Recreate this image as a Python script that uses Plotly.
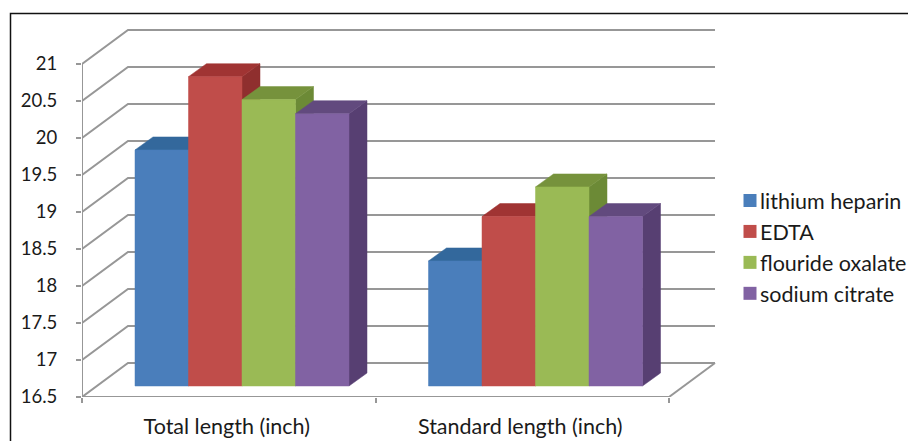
import plotly.graph_objects as go

categories = ["Total length (inch)", "Standard length (inch)"]
lithium_heparin = [19.69, 18.19]
edta = [20.68, 18.79]
flouride_oxalate = [20.37, 19.19]
sodium_citrate = [20.18, 18.79]
series_names = ["lithium heparin", "EDTA", "flouride oxalate", "sodium citrate"]
y_ticks = [16.5, 17, 17.5, 18, 18.5, 19, 19.5, 20, 20.5, 21]
y_labels = ["16.5", "17", "17.5", "18", "18.5", "19", "19.5", "20", "20.5", "21"]

series_values = [lithium_heparin, edta, flouride_oxalate, sodium_citrate]

# Layout geometry in pixels (the canvas runs a little past the 908 px window so the
# legend never steals room from the plot area)
W, H = 960, 441
LEFT, BOTTOM_PX, TOP_PX, RIGHT_PX = 82, 397, 28, 960
PX_PER_CAT = 293.5
PX_PER_UNIT = 74.0
BASE = 16.5

def xu(px):
    return px / PX_PER_CAT

def yu(px):
    return px / PX_PER_UNIT

WALL_DX, WALL_DY = xu(46), yu(34)
BAR_DX, BAR_DY = xu(18), yu(13)
FRONT_DY = yu(11)
BAR_W = xu(53.5)
GROUP_LEFT = xu(53)
N = len(categories)

front_cols = ["#4a7ebb", "#c04d4a", "#9aba55", "#8162a3"]
top_cols = ["#33689c", "#a03433", "#76923c", "#624a7e"]
side_cols = ["#376092", "#8f2f2e", "#6c8a36", "#573f72"]
GRID = "#979797"
FONT = "Lato, Carlito, 'Open Sans', sans-serif"

fig = go.Figure()

def line(xs, ys):
    fig.add_trace(go.Scatter(x=xs, y=ys, mode="lines", showlegend=False, hoverinfo="skip",
                             cliponaxis=False, line=dict(color=GRID, width=2)))

def poly(xs, ys, col):
    fig.add_trace(go.Scatter(x=xs, y=ys, mode="lines", fill="toself", fillcolor=col,
                             showlegend=False, hoverinfo="skip", cliponaxis=False,
                             line=dict(color=col, width=0.5)))

# Walls and floor
for v in y_ticks:
    line([0, WALL_DX, N + WALL_DX], [v, v + WALL_DY, v + WALL_DY])
line([N, N + WALL_DX], [BASE, BASE + WALL_DY])
line([0, 0], [BASE, y_ticks[-1]])
line([0, N], [BASE, BASE])

# Bars painted back to front, left to right
for i in range(N):
    for j, vals in enumerate(series_values):
        x0 = i + GROUP_LEFT + j * BAR_W
        x1 = x0 + BAR_W
        b = BASE + FRONT_DY
        t = vals[i] + FRONT_DY
        poly([x1, x1 + BAR_DX, x1 + BAR_DX, x1, x1], [b, b + BAR_DY, t + BAR_DY, t, b], side_cols[j])
        poly([x0, x1, x1 + BAR_DX, x0 + BAR_DX, x0], [t, t, t + BAR_DY, t + BAR_DY, t], top_cols[j])
        poly([x0, x1, x1, x0, x0], [b, b, t, t, b], front_cols[j])

# Legend entries
for name, col in zip(series_names, front_cols):
    fig.add_trace(go.Scatter(x=[None], y=[None], mode="markers", name=name,
                             marker=dict(symbol="square", size=13, color=col)))

plot_w = RIGHT_PX - LEFT
plot_h = BOTTOM_PX - TOP_PX

fig.update_layout(
    width=W, height=H,
    margin=dict(l=LEFT, r=W - RIGHT_PX, t=TOP_PX, b=H - BOTTOM_PX, pad=0),
    paper_bgcolor="white", plot_bgcolor="rgba(0,0,0,0)",
    font=dict(family=FONT, size=21.5, color="#1a1a1a"),
    xaxis=dict(range=[0, plot_w / PX_PER_CAT], showgrid=False, zeroline=False, showline=False,
               tickmode="array", tickvals=[i + 0.5 - xu(2) for i in range(N)], ticktext=categories,
               ticks="", ticklabelstandoff=14, tickfont=dict(size=21.5),
               minor=dict(tickmode="array", tickvals=list(range(N + 1)), ticks="outside",
                          ticklen=5, tickwidth=2, tickcolor=GRID, showgrid=False)),
    yaxis=dict(range=[BASE, BASE + plot_h / PX_PER_UNIT], showgrid=False, zeroline=False,
               showline=False, tickmode="array", tickvals=y_ticks, ticktext=y_labels,
               ticks="outside", ticklen=5, tickwidth=2, tickcolor=GRID, ticklabelstandoff=15,
               tickfont=dict(size=18.5)),
    legend=dict(x=(720 - LEFT) / plot_w, xanchor="left", y=(BOTTOM_PX - 180) / plot_h, yanchor="top",
                font=dict(size=21.5), bgcolor="rgba(0,0,0,0)", itemclick=False, itemdoubleclick=False),
    shapes=[dict(type="path", xref="paper", yref="paper", layer="above",
                 path="M {l} {b} L {l} {t} L {r} {t}".format(
                     l=(10.5 - LEFT) / plot_w, b=(BOTTOM_PX - 445) / plot_h,
                     t=(BOTTOM_PX - 13.5) / plot_h, r=(958 - LEFT) / plot_w),
                 line=dict(color="#111111", width=1.5))],
)

nudge = """
document.documentElement.style.overflow='hidden';
document.body.style.margin='0';document.body.style.overflow='hidden';
var shift=function(){document.querySelectorAll('.legendpoints').forEach(function(g){g.setAttribute('transform','translate(10,0)');});};
shift();setTimeout(shift,50);
"""
fig.write_html("out.html", config={"displayModeBar": False}, post_script=nudge)
